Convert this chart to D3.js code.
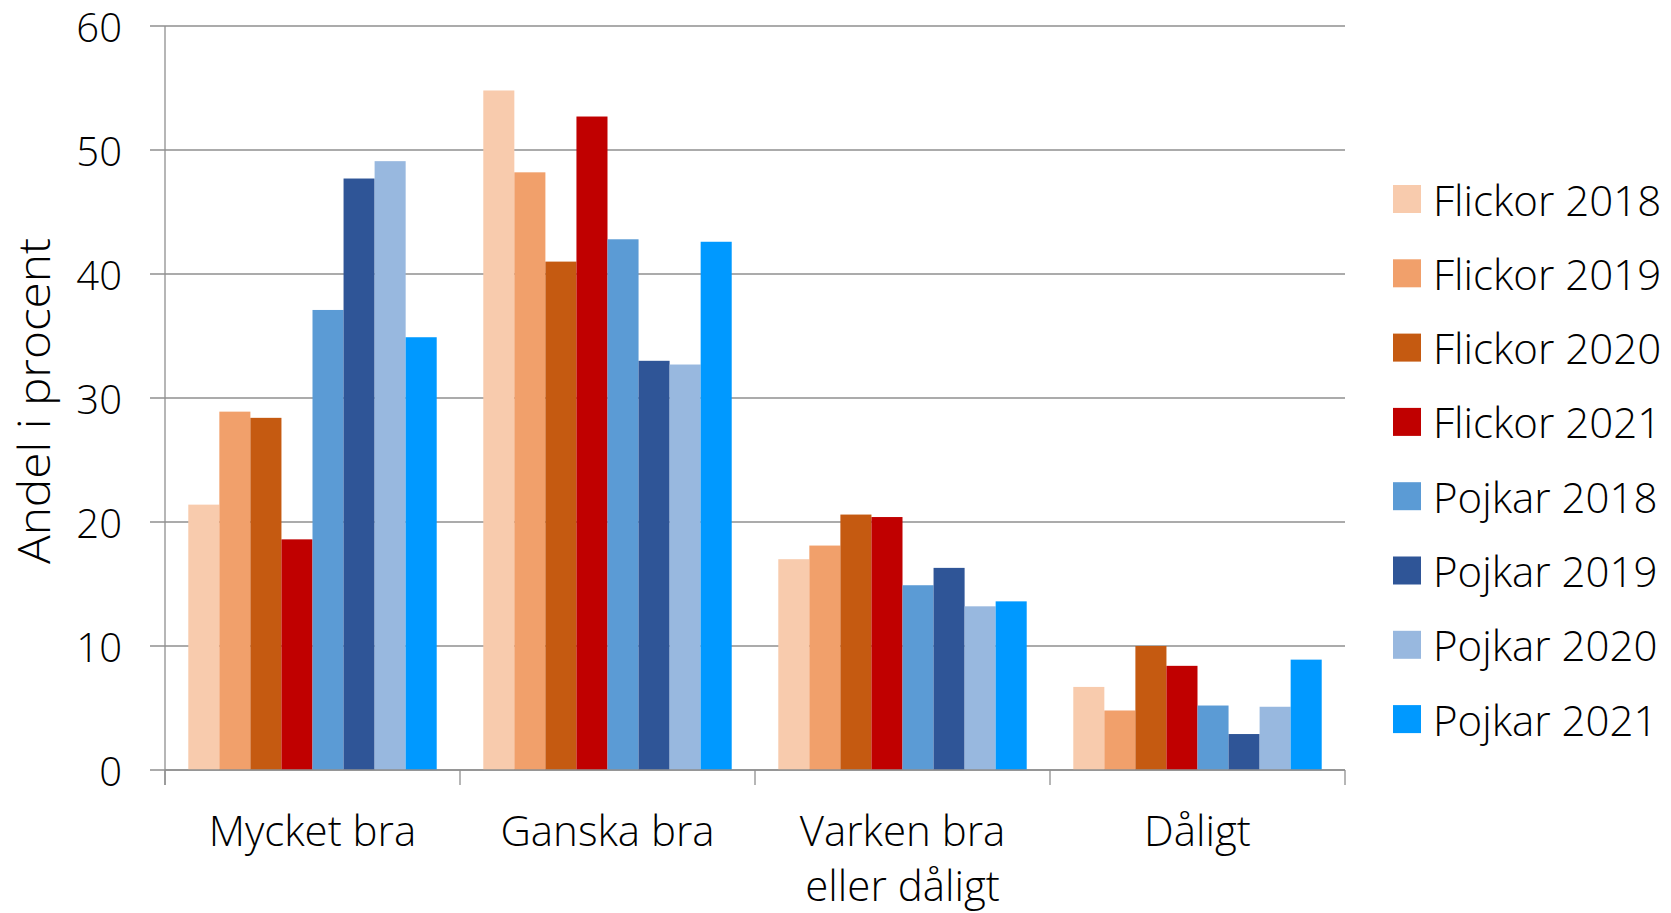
<!DOCTYPE html>
<html>
<head>
<meta charset="utf-8">
<script src="https://cdn.jsdelivr.net/npm/d3@7"></script>
<style>
  html, body { margin: 0; padding: 0; background: #fff; }
  svg { display: block; }
  text { font-family: "Open Sans", "DejaVu Sans", sans-serif; fill: #000; }
</style>
</head>
<body>
<svg id="chart" width="1671" height="913"></svg>
<script>
const categories = ["Mycket bra", "Ganska bra", "Varken bra\neller dåligt", "Dåligt"];
const seriesNames = ["Flickor 2018", "Flickor 2019", "Flickor 2020", "Flickor 2021",
                     "Pojkar 2018", "Pojkar 2019", "Pojkar 2020", "Pojkar 2021"];
const seriesColors = ["#F8CBAD", "#F1A06B", "#C55A11", "#C00000",
                      "#5B9BD5", "#2F5597", "#98B8DF", "#0099FF"];
const flickor2018 = [21.4, 54.8, 17.0, 6.7];
const flickor2019 = [28.9, 48.2, 18.1, 4.8];
const flickor2020 = [28.4, 41.0, 20.6, 10.0];
const flickor2021 = [18.6, 52.7, 20.4, 8.4];
const pojkar2018  = [37.1, 42.8, 14.9, 5.2];
const pojkar2019  = [47.7, 33.0, 16.3, 2.9];
const pojkar2020  = [49.1, 32.7, 13.2, 5.1];
const pojkar2021  = [34.9, 42.6, 13.6, 8.9];
const yTicks = [0, 10, 20, 30, 40, 50, 60];
const yTitle = "Andel i procent";

const seriesValues = [flickor2018, flickor2019, flickor2020, flickor2021,
                      pojkar2018, pojkar2019, pojkar2020, pojkar2021];

const svg = d3.select("#chart");
const plotLeft = 165, plotRight = 1345, plotTop = 26, plotBottom = 770;

const x0 = d3.scaleBand().domain(categories).range([plotLeft, plotRight]).padding(0);
const x1 = d3.scaleBand().domain(seriesNames).range([0, x0.bandwidth()])
  .paddingInner(0).paddingOuter(0.75);
const y = d3.scaleLinear().domain([0, 60]).range([plotBottom, plotTop]);

const gridColor = "#8f8f8f";

// gridlines + left ticks
svg.append("g").selectAll("line").data(yTicks).join("line")
  .attr("x1", plotLeft - 15).attr("x2", plotRight)
  .attr("y1", d => y(d)).attr("y2", d => y(d))
  .attr("stroke", gridColor).attr("stroke-width", 1.3);

// y tick labels
svg.append("g").selectAll("text").data(yTicks).join("text")
  .attr("x", 122).attr("y", d => y(d))
  .attr("text-anchor", "end").attr("dominant-baseline", "central")
  .style("font-size", "40px").style("font-weight", 350)
  .text(d => d);

// bars
const groups = svg.append("g").selectAll("g").data(categories).join("g")
  .attr("transform", d => `translate(${x0(d)},0)`);
groups.selectAll("rect")
  .data((c, ci) => seriesNames.map((s, si) => ({ s, si, v: seriesValues[si][ci] })))
  .join("rect")
  .attr("x", d => x1(d.s))
  .attr("width", x1.bandwidth())
  .attr("y", d => y(d.v))
  .attr("height", d => y(0) - y(d.v))
  .attr("fill", d => seriesColors[d.si]);

// y axis line
svg.append("line").attr("x1", plotLeft).attr("x2", plotLeft).attr("y1", plotTop).attr("y2", plotBottom + 15)
  .attr("stroke", gridColor).attr("stroke-width", 1.3);
// x axis line
svg.append("line").attr("x1", plotLeft).attr("x2", plotRight).attr("y1", plotBottom).attr("y2", plotBottom)
  .attr("stroke", gridColor).attr("stroke-width", 1.3);
// category ticks
const tickXs = categories.map(c => x0(c)).concat([plotRight]);
svg.append("g").selectAll("line").data(tickXs).join("line")
  .attr("x1", d => d).attr("x2", d => d).attr("y1", plotBottom).attr("y2", plotBottom + 15)
  .attr("stroke", gridColor).attr("stroke-width", 1.3);

// category labels
svg.append("g").selectAll("text").data(categories).join("text")
  .attr("x", d => x0(d) + x0.bandwidth() / 2)
  .attr("y", 846)
  .attr("text-anchor", "middle")
  .style("font-size", "42px").style("font-weight", 350)
  .each(function(d) {
    const lines = d.split("\n");
    d3.select(this).selectAll("tspan").data(lines).join("tspan")
      .attr("x", x0(d) + x0.bandwidth() / 2)
      .attr("dy", (l, i) => i === 0 ? 0 : 55)
      .text(l => l);
  });

// y title
svg.append("text")
  .attr("transform", `translate(50,401) rotate(-90)`)
  .attr("text-anchor", "middle")
  .attr("textLength", 326).attr("lengthAdjust", "spacingAndGlyphs")
  .style("font-size", "45px").style("font-weight", 350)
  .text(yTitle);

// legend
const legend = svg.append("g").selectAll("g").data(seriesNames).join("g")
  .attr("transform", (d, i) => `translate(1393, ${199 + i * 74.3})`);
legend.append("rect").attr("x", 0).attr("y", -14).attr("width", 28).attr("height", 28)
  .attr("fill", (d, i) => seriesColors[i]);
legend.append("text").attr("x", 40).attr("y", 0)
  .attr("dominant-baseline", "central")
  .style("font-size", "42px").style("font-weight", 350)
  .text(d => d);
</script>
</body>
</html>
